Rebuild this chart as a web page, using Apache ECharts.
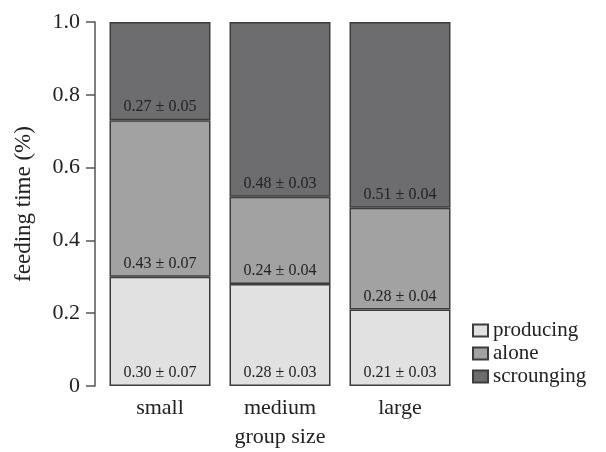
<!DOCTYPE html>
<html>
<head>
<meta charset="utf-8">
<script src="https://cdn.jsdelivr.net/npm/echarts@6/dist/echarts.min.js"></script>
<style>
  html, body { margin: 0; padding: 0; background: #fff; }
  #main { width: 606px; height: 452px; }
</style>
</head>
<body>
<div id="main"></div>
<script>
var groups = ["small", "medium", "large"];
var producing = [0.30, 0.28, 0.21];
var producingErr = [0.07, 0.03, 0.03];
var alone = [0.43, 0.24, 0.28];
var aloneErr = [0.07, 0.04, 0.04];
var scrounging = [0.27, 0.48, 0.51];
var scroungingErr = [0.05, 0.03, 0.04];
var yTicks = [0, 0.2, 0.4, 0.6, 0.8, 1.0];

var font = "'Liberation Serif', 'DejaVu Serif', serif";
var chart = echarts.init(document.getElementById("main"));

function makeSeries(name, values, errs, color) {
  return {
    name: name,
    type: "bar",
    stack: "total",
    barWidth: 101,
    data: values,
    itemStyle: { color: color, borderColor: "#3c3c3c", borderWidth: 1.5 },
    label: {
      show: true,
      position: "insideBottom",
      distance: 5,
      fontFamily: font,
      fontSize: 16,
      color: "#222",
      formatter: function (p) {
        return values[p.dataIndex].toFixed(2) + " \u00b1 " + errs[p.dataIndex].toFixed(2);
      }
    }
  };
}

chart.setOption({
  animation: false,
  grid: { left: 100, right: 146, top: 22, bottom: 66, containLabel: false, outerBoundsMode: "none" },
  legend: {
    orient: "vertical",
    left: 467,
    top: 315,
    icon: "rect",
    itemWidth: 15,
    itemHeight: 12,
    itemGap: 2,
    textStyle: { fontFamily: font, fontSize: 21, color: "#222" },
    data: ["producing", "alone", "scrounging"]
  },
  xAxis: {
    type: "category",
    data: groups,
    axisLine: { show: false },
    axisTick: { show: false },
    axisLabel: { fontFamily: font, fontSize: 22, color: "#222", margin: 11 },
    name: "group size",
    nameLocation: "middle",
    nameGap: 40,
    nameTextStyle: { fontFamily: font, fontSize: 22, color: "#222" }
  },
  yAxis: {
    type: "value",
    min: yTicks[0],
    max: yTicks[yTicks.length - 1],
    interval: 0.2,
    offset: 5,
    splitLine: { show: false },
    axisLine: { show: true, lineStyle: { color: "#555", width: 1.5 } },
    axisTick: { show: true, length: 9, lineStyle: { color: "#555", width: 1.5 } },
    axisLabel: {
      fontFamily: font, fontSize: 22, color: "#222", margin: 15,
      formatter: function (v) { return v === 0 ? "0" : v.toFixed(1); }
    },
    name: "feeding time (%)",
    nameLocation: "middle",
    nameGap: 60,
    nameTextStyle: { fontFamily: font, fontSize: 23, color: "#222" }
  },
  series: [
    makeSeries("producing", producing, producingErr, "#e1e1e1"),
    makeSeries("alone", alone, aloneErr, "#a2a2a3"),
    makeSeries("scrounging", scrounging, scroungingErr, "#6d6d6f")
  ]
});
</script>
</body>
</html>
